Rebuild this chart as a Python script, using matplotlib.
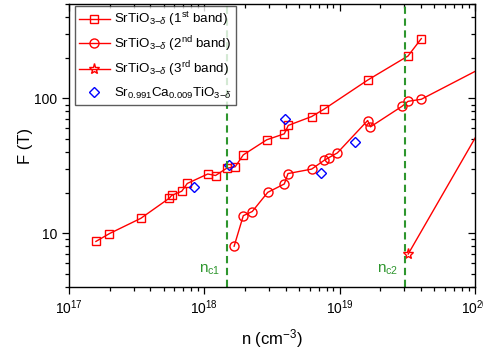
import numpy as np
import matplotlib.pyplot as plt
from matplotlib.ticker import FixedLocator, FixedFormatter, LogLocator, NullFormatter

plt.rcParams['font.family'] = ['Liberation Sans', 'DejaVu Sans']
plt.rcParams['mathtext.fontset'] = 'custom'
plt.rcParams['mathtext.rm'] = 'Liberation Sans'
plt.rcParams['mathtext.it'] = 'Liberation Sans:italic'
plt.rcParams['mathtext.sf'] = 'Liberation Sans'

# 1st band (squares)
n_band1 = [1.58e17, 1.99e17, 3.39e17, 5.51e17, 5.74e17, 6.81e17, 7.48e17, 1.06e18, 1.21e18,
           1.46e18, 1.69e18, 1.94e18, 2.89e18, 3.90e18, 4.17e18, 6.21e18, 7.71e18,
           1.61e19, 3.20e19, 4.01e19]
F_band1 = [8.7, 9.95, 12.9, 18.2, 19.1, 20.5, 23.4, 27.5, 26.8,
           30.3, 31.1, 38.1, 49.3, 54.6, 63.0, 73.3, 83.4,
           136.5, 206, 277]

# 2nd band (circles), last point lies beyond the axis
n_band2 = [1.66e18, 1.94e18, 2.26e18, 2.94e18, 3.90e18, 4.15e18, 6.21e18, 7.71e18, 8.34e18,
           9.61e18, 1.61e19, 1.69e19, 2.89e19, 3.20e19, 4.01e19, 1.2e20]
F_band2 = [8.02, 13.5, 14.5, 20.1, 23.2, 27.7, 29.9, 34.8, 36.4,
           39.4, 68.5, 61.5, 87.3, 95.0, 98.4, 174]

# 3rd band (stars)
n_band3 = [3.21e19, 1.2e20]
F_band3 = [7.02, 69.5]

# Sr0.991Ca0.009TiO3-d (diamonds)
n_ca = [8.39e17, 1.51e18, 3.95e18, 7.26e18, 1.30e19]
F_ca = [21.9, 32.1, 70.6, 27.9, 47.2]

# critical densities
n_c = [1.46e18, 3.04e19]
n_c_labels = ['n$_{\\rm c1}$', 'n$_{\\rm c2}$']

fig = plt.figure(figsize=(4.83, 3.49), dpi=100)
ax = fig.add_axes([0.1429, 0.1777, 0.8405, 0.8108])

red = '#ff0000'
green = '#2e962e'
ax.plot(n_band1, F_band1, '-s', color=red, mfc='none', mec=red, ms=6, mew=1.0, lw=1.0,
        label='SrTiO$_{3\\mathrm{-}\\delta}$ (1$^{\\rm st}$ band)')
ax.plot(n_band2, F_band2, '-o', color=red, mfc='none', mec=red, ms=6.5, mew=1.0, lw=1.0,
        label='SrTiO$_{3\\mathrm{-}\\delta}$ (2$^{\\rm nd}$ band)')
ax.plot(n_band3, F_band3, '-*', color=red, mfc='none', mec=red, ms=8, mew=1.0, lw=1.0,
        label='SrTiO$_{3\\mathrm{-}\\delta}$ (3$^{\\rm rd}$ band)')
ax.plot(n_ca, F_ca, 'D', color='#0000ff', mfc='none', ms=5.5, mew=1.0, ls='none',
        label='Sr$_{0.991}$Ca$_{0.009}$TiO$_{3\\mathrm{-}\\delta}$')

for x, lab in zip(n_c, n_c_labels):
    ax.axvline(x, color=green, ls=(0, (3.5, 2.2)), lw=1.5)
    ax.text(x / 1.12, 4.75, lab, color=green, fontsize=11, ha='right', va='bottom')

ax.set_xscale('log')
ax.set_yscale('log')
ax.set_xlim(1e17, 1e20)
ax.set_ylim(4, 500)

ax.yaxis.set_major_locator(FixedLocator([10, 100]))
ax.yaxis.set_major_formatter(FixedFormatter(['10', '100']))
ax.yaxis.set_minor_locator(LogLocator(base=10, subs=np.arange(2, 10)))
ax.yaxis.set_minor_formatter(NullFormatter())
ax.xaxis.set_minor_locator(LogLocator(base=10, subs=np.arange(2, 10)))
ax.xaxis.set_minor_formatter(NullFormatter())

ax.tick_params(which='both', labelsize=10, top=True, right=True, width=0.9)
ax.tick_params(which='major', length=5)
ax.tick_params(which='minor', length=3)
ax.tick_params(axis='x', which='both', direction='out')
ax.tick_params(axis='y', which='both', direction='out')
# mirrored ticks point inward
for t in ax.xaxis.get_major_ticks() + ax.xaxis.get_minor_ticks():
    t.tick2line.set_marker(3)
for t in ax.yaxis.get_major_ticks() + ax.yaxis.get_minor_ticks():
    t.tick2line.set_marker(0)
for s in ax.spines.values():
    s.set_linewidth(1.0)

ax.set_xlabel('n (cm$^{-3}$)', fontsize=12, labelpad=7)
ax.set_ylabel('F (T)', fontsize=12, labelpad=1)

leg = ax.legend(loc='upper left', fontsize=9.6, frameon=True, fancybox=False,
                edgecolor='#333333', borderaxespad=0.15, handlelength=2.3,
                labelspacing=0.45, borderpad=0.3, handletextpad=0.3,
                bbox_to_anchor=(0.01, 1.0))
leg.get_frame().set_linewidth(1.0)

fig.savefig('out.png', dpi=100)
